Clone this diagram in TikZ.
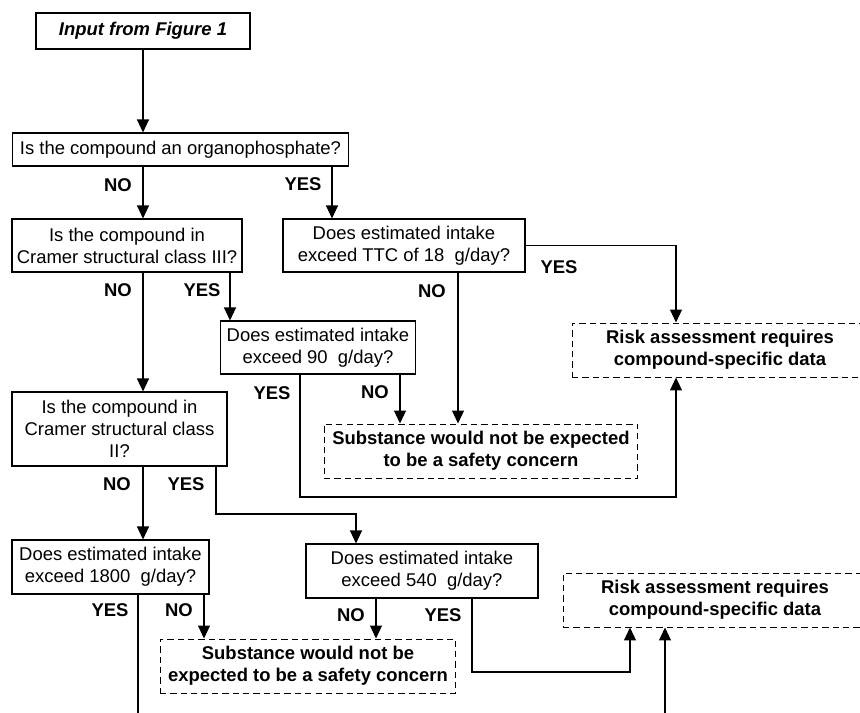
\documentclass[tikz,border=0pt]{standalone}
\usepackage{fontspec}
\setmainfont{Liberation Sans}
\usetikzlibrary{arrows.meta}

\begin{document}
\begin{tikzpicture}[x=0.02cm, y=-0.02cm,
  every node/.style={font=\fontsize{10.5}{12.5}\selectfont},
  qbox/.style={draw, line width=0.6pt, align=center, inner sep=0pt},
  endbox/.style={draw, dash pattern=on 3.6pt off 2.3pt, line width=0.55pt, align=center, inner sep=0pt, font=\fontsize{10.5}{12.5}\selectfont\bfseries},
  lbl/.style={font=\fontsize{10.5}{12.5}\selectfont\bfseries},
  ln/.style={line width=0.75pt},
  arr/.style={line width=0.75pt, -{Triangle[length=7.4pt,width=6.8pt]}}]
\clip (0,0) rectangle (860,713);
\useasboundingbox (0,0) rectangle (860,713);

% Start and first question
\node[qbox, minimum width=4.28cm, minimum height=0.72cm, font=\fontsize{10.5}{12.5}\selectfont\bfseries\itshape] (input) at (143,31) {Input from Figure 1};
\node[qbox, minimum width=6.74cm, minimum height=0.66cm] (qop) at (180.5,149.5) {Is the compound an organophosphate?};

% Second level
\node[qbox, minimum width=4.6cm, minimum height=1.06cm] (qc3) at (127,245.5) {Is the compound in\\Cramer structural class III?};
\node[qbox, minimum width=4.84cm, minimum height=1.06cm] (qttc) at (404,245.5) {Does estimated intake\\exceed TTC of 18~~g/day?};
\node[qbox, minimum width=3.9cm, minimum height=1.06cm] (q90) at (318,347.5) {Does estimated intake\\exceed 90~~g/day?};
\node[endbox, minimum width=5.92cm, minimum height=1.08cm] (risk1) at (720,350) {Risk assessment requires\\compound-specific data};
\node[endbox, minimum width=6.28cm, minimum height=1.08cm] (safe1) at (481,451) {Substance would not be expected\\to be a safety concern};

% Class II branch
\node[qbox, minimum width=4.3cm, minimum height=1.48cm] (qc2) at (119.5,429) {Is the compound in\\Cramer structural class\\II?};
\node[qbox, minimum width=3.94cm, minimum height=1.08cm] (q1800) at (110.5,567) {Does estimated intake\\exceed 1800~~g/day?};
\node[qbox, minimum width=4.64cm, minimum height=1.08cm] (q540) at (422,571) {Does estimated intake\\exceed 540~~g/day?};
\node[endbox, minimum width=5.92cm, minimum height=1.08cm] (safe2) at (308,666) {Substance would not be\\expected to be a safety concern};
\node[endbox, minimum width=6.08cm, minimum height=1.08cm] (risk2) at (715,600) {Risk assessment requires\\compound-specific data};

% Free ends at the bottom edge
\coordinate (out1) at (138,713);
\coordinate (in2) at (665,713);

% Connectors
\draw[arr] (input.south) -- (input.south |- qop.north);
\draw[arr] (143,0 |- qop.south) -- (143,0 |- qc3.north);
\draw[arr] (332,0 |- qop.south) -- (332,0 |- qttc.north);
\draw[arr] (143,0 |- qc3.south) -- (143,0 |- qc2.north);
\draw[arr] (230,0 |- qc3.south) -- (230,0 |- q90.north);
\draw[arr] (qttc.east) -| (676,0 |- risk1.north);
\draw[arr] (458,0 |- qttc.south) -- (458,0 |- safe1.north);
\draw[arr] (400,0 |- q90.south) -- (400,0 |- safe1.north);
\draw[arr] (300,0 |- q90.south) -- (300,497) -| (676,0 |- risk1.south);
\draw[arr] (143,0 |- qc2.south) -- (143,0 |- q1800.north);
\draw[arr] (216,0 |- qc2.south) -- (216,514) -| (356,0 |- q540.north);
\draw[ln] (out1 |- q1800.south) -- (out1);
\draw[arr] (204,0 |- q1800.south) -- (204,0 |- safe2.north);
\draw[arr] (376,0 |- q540.south) -- (376,0 |- safe2.north);
\draw[arr] (472,0 |- q540.south) -- (472,672) -| (630,0 |- risk2.south);
\draw[arr] (in2) -- (in2 |- risk2.south);

% Branch labels
\node[lbl] (no1) at (118,185) {NO};
\node[lbl] (yes1) at (303,184) {YES};
\node[lbl] (no2) at (118,290) {NO};
\node[lbl] (yes2) at (202,290) {YES};
\node[lbl] (yes3) at (559,267) {YES};
\node[lbl] (no3) at (432,291) {NO};
\node[lbl] (yes4) at (272,393) {YES};
\node[lbl] (no4) at (375,392) {NO};
\node[lbl] (no5) at (117,484) {NO};
\node[lbl] (yes5) at (186,484) {YES};
\node[lbl] (yes6) at (110,610) {YES};
\node[lbl] (no6) at (179,610) {NO};
\node[lbl] (no7) at (351,615) {NO};
\node[lbl] (yes7) at (443,615) {YES};
\end{tikzpicture}
\end{document}
